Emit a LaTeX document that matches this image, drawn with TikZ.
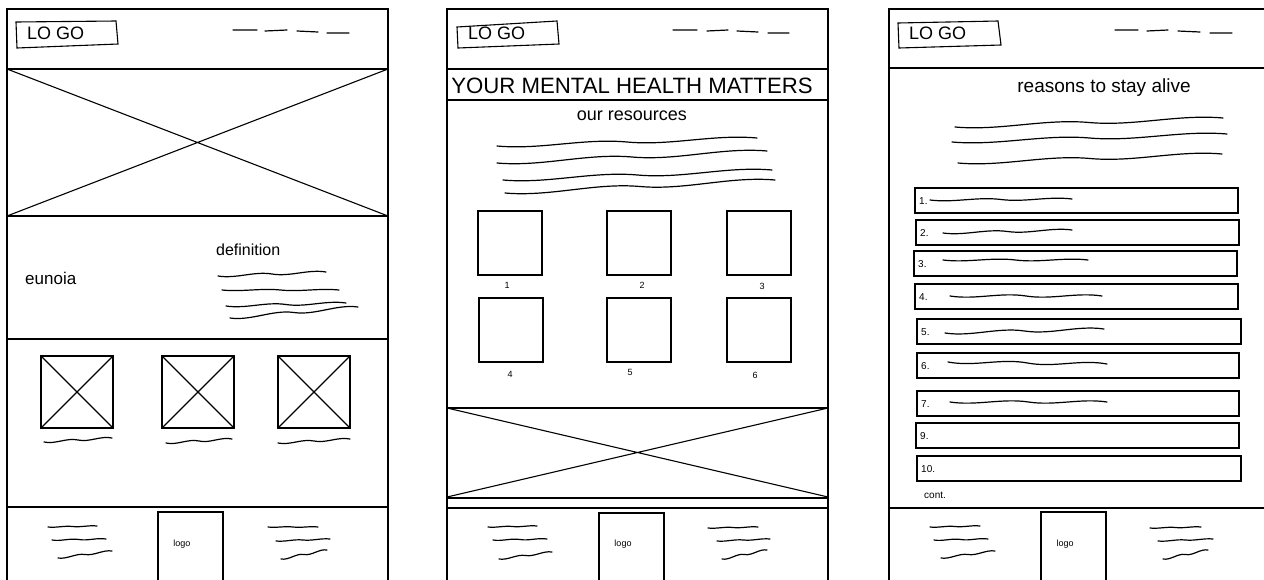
\documentclass[tikz,border=0pt]{standalone}
\usepackage{fontspec}
\setmainfont{Liberation Sans}
\tikzset{
  frame/.style={line width=1.4pt, draw=black},
  thinl/.style={line width=1.1pt, draw=black},
  wave/.style={line width=1.2pt, line cap=round, draw=black},
  hand/.style={inner sep=0pt, text=black},
}
% wavy stroke: x1 y1 x2 y2 amplitude -- two S-shaped segments
\newcommand\wv[5]{\draw[wave] (#1,#2) .. controls +({(#3-#1)/6},#5) and +({-(#3-#1)/6},{-(#5)}) .. ({(#1+#3)/2},{(#2+#4)/2}) .. controls +({(#3-#1)/6},#5) and +({-(#3-#1)/6},{-(#5)}) .. (#3,#4);}
\begin{document}
\begin{tikzpicture}[x=1pt,y=-1pt]
\useasboundingbox (0,0) rectangle (1264,579);
\clip (0,0) rectangle (1264,579);
\fill[white] (0,0) rectangle (1264,579);

%%%%%%%%%%%%%%%% PANEL 1
\draw[frame] (7,585) -- (7,9) -- (388,9) -- (388,585);
\draw[frame] (7,69) -- (388,69) (7,216) -- (388,216) (7,339) -- (388,339) (7,507) -- (388,507);
\draw[thinl] (7,69) -- (388,216) (7,216) -- (388,69);
\draw[thinl] (16,22) -- (116,21) -- (118,44) -- (17,48) -- cycle;
\node[hand, anchor=west, font=\fontsize{18}{20}\selectfont] (logo1) at (27,33) {LO GO};
\draw[wave] (233,30) -- (257,30) (265,31) -- (287,30) (297,31) -- (318,32) (327,33) -- (349,33);
\node[hand, anchor=west, font=\fontsize{17}{19}\selectfont] (eunoia) at (25,278) {eunoia};
\node[hand, anchor=west, font=\fontsize{16}{18}\selectfont] (defn) at (216,250) {definition};
\wv{218}{276}{326}{272}{3}
\wv{222}{290}{339}{290}{2}
\wv{226}{306}{346}{303}{3}
\wv{230}{318}{358}{307}{3}
\foreach \a in {41,162,278} {
  \draw[thinl] (\a,356) rectangle ++(72,72);
  \draw[thinl] (\a,356) -- ++(72,72) (\a,428) -- ++(72,-72);
}
\wv{44}{442}{112}{438}{2.5}
\wv{166}{443}{232}{439}{2.5}
\wv{278}{443}{350}{439}{2.5}
\draw[thinl] (158,512) rectangle (223,590);
\node[hand, font=\fontsize{9}{10}\selectfont] (flogo1) at (182,544) {logo};
\wv{48}{527}{97}{526}{1}
\wv{52}{540}{106}{539}{1.5}
\wv{58}{558}{112}{551}{1.5}
\wv{268}{527}{318}{527}{1}
\wv{276}{541}{330}{539}{1}
\wv{281}{559}{327}{550}{1.5}

%%%%%%%%%%%%%%%% PANEL 2
\draw[frame] (447,585) -- (447,9) -- (828,9) -- (828,585);
\draw[frame] (447,69) -- (828,69) (447,100) -- (828,100) (447,408) -- (828,408) (447,498) -- (828,498) (447,508) -- (828,508);
\draw[thinl] (447,408) -- (828,497) (447,497) -- (828,408);
\draw[thinl] (457,27) -- (557,21) -- (559,44) -- (458,48) -- cycle;
\node[hand, anchor=west, font=\fontsize{18}{20}\selectfont] (logo2) at (468,33) {LO GO};
\draw[wave] (673,30) -- (697,30) (707,31) -- (728,30) (737,31) -- (758,32) (768,33) -- (789,33);
\node[hand, font=\fontsize{22.2}{24}\selectfont] (title2) at (632,86) {YOUR MENTAL HEALTH MATTERS};
\node[hand, font=\fontsize{18}{20}\selectfont] (res) at (632,116) {our resources};
\wv{497}{146}{757}{138}{4}
\wv{497}{163}{767}{151}{4}
\wv{503}{180}{772}{170}{4}
\wv{505}{193}{775}{180}{4}
\foreach \a/\b/\n/\lx/\ly in {478/211/1/507/285, 607/211/2/642/285, 727/211/3/762/286, 479/298/4/510/374, 607/298/5/630/372, 727/298/6/755/375} {
  \draw[thinl] (\a,\b) rectangle ++(64,64);
  \node[hand, font=\fontsize{9}{10}\selectfont] at (\lx,\ly) {\n};
}
\draw[thinl] (599,513) rectangle (664,590);
\node[hand, font=\fontsize{9}{10}\selectfont] (flogo2) at (623,544) {logo};
\wv{488}{527}{537}{526}{1}
\wv{493}{540}{547}{539}{1.5}
\wv{499}{559}{552}{552}{1.5}
\wv{708}{528}{758}{527}{1}
\wv{717}{541}{770}{539}{1}
\wv{722}{559}{767}{550}{1.5}

%%%%%%%%%%%%%%%% PANEL 3
\draw[frame] (889,585) -- (889,9) -- (1270,9);
\draw[frame] (889,68) -- (1270,68) (889,508) -- (1270,508);
\draw[thinl] (898,23) -- (998,21) -- (1001,45) -- (899,48) -- cycle;
\node[hand, anchor=west, font=\fontsize{18}{20}\selectfont] (logo3) at (909,33) {LO GO};
\draw[wave] (1115,30) -- (1138,30) (1147,31) -- (1168,30) (1178,31) -- (1200,32) (1210,33) -- (1232,33);
\node[hand, font=\fontsize{19}{21}\selectfont] (title3) at (1104,88) {reasons to stay alive};
\wv{955}{127}{1223}{118}{4}
\wv{952}{142}{1227}{134}{4}
\wv{958}{163}{1222}{154}{4}
\foreach \t/\bx/\by/\ex in {1./915/188/1238, 2./916/220/1239, 3./914/251/1237, 4./915/284/1238, 5./917/319/1241, 6./917/353/1239, 7./917/391/1239, 9./916/423/1239, 10./917/456/1241} {
  \draw[thinl] (\bx,\by) rectangle (\ex,\by+25);
  \node[hand, anchor=west, font=\fontsize{10}{11}\selectfont] at (\bx+4,\by+13) {\t};
}
\wv{930}{200}{1072}{199}{3}
\wv{943}{233}{1072}{230}{3}
\wv{943}{260}{1088}{260}{3}
\wv{950}{296}{1102}{296}{4}
\wv{945}{333}{1104}{329}{4}
\wv{948}{362}{1107}{364}{5}
\wv{950}{402}{1107}{402}{4}
\node[hand, anchor=west, font=\fontsize{10}{11}\selectfont] (cont) at (924,495) {cont.};
\draw[thinl] (1041,512) rectangle (1106,590);
\node[hand, font=\fontsize{9}{10}\selectfont] (flogo3) at (1065,544) {logo};
\wv{930}{527}{980}{526}{1}
\wv{934}{540}{988}{539}{1.5}
\wv{941}{558}{995}{551}{1.5}
\wv{1150}{528}{1201}{527}{1}
\wv{1158}{541}{1213}{539}{1}
\wv{1163}{559}{1208}{550}{1.5}
\end{tikzpicture}
\end{document}
